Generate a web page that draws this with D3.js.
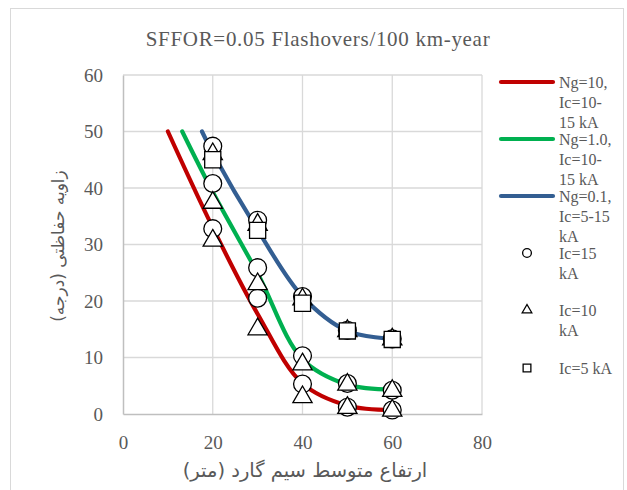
<!DOCTYPE html>
<html>
<head>
<meta charset="utf-8">
<script src="https://cdn.jsdelivr.net/npm/d3@7"></script>
<style>
  body { margin: 0; background: #fff; }
  text { font-family: "Liberation Serif", serif; fill: #595959; }
  .fa { font-family: "DejaVu Sans", sans-serif; }
</style>
</head>
<body>
<div id="chart"></div>
<script>
// tick values
let xTicks = [0, 20, 40, 60, 80];
let yTicks = [0, 10, 20, 30, 40, 50, 60];

// smoothed curves, one per Ng
let ng10Curve = [[10, 50], [20, 33], [30, 17.7], [40, 5.4], [50, 1.5], [60, 0.7]];
let ng1Curve = [[13.2, 50], [20, 39.3], [30, 24.9], [40, 9.7], [50, 5.2], [60, 4.3]];
let ng01Curve = [[17.6, 50], [20, 46.2], [30, 32.6], [40, 20.8], [50, 14.7], [60, 13.3]];

// marker series
let ic15Pts = [[20, 47.4], [20, 40.8], [20, 32.8], [30, 34.3], [30, 25.9], [30, 20.5],
    [40, 20.8], [40, 10.3], [40, 5.3], [50, 14.8], [50, 5.4], [50, 1.2],
    [60, 13.3], [60, 4.2], [60, 0.7]];
let ic10Pts = [[20, 46], [20, 37.4], [20, 30.7], [30, 33.5], [30, 23], [30, 15],
    [40, 20.3], [40, 8.8], [40, 3], [50, 14.7], [50, 5.2], [50, 1.1],
    [60, 13.2], [60, 4.1], [60, 0.6]];
let ic5Pts = [[20, 45], [30, 32.5], [40, 19.6], [50, 14.7], [60, 13.2]];

let curveNames = ["Ng=10,|Ic=10-|15 kA", "Ng=1.0,|Ic=10-|15 kA", "Ng=0.1,|Ic=5-15|kA"];
let curveColors = ["#c00000", "#00b050", "#335e92"];
let markerNames = ["Ic=15|kA", "Ic=10|kA", "Ic=5 kA"];

let svgWidth = 627;
let svgHeight = 490;
let margin = { top: 75, left: 123 };
let width = 359;
let height = 339;

let svg = d3.select("#chart")
    .append("svg")
    .attr("width", svgWidth)
    .attr("height", svgHeight);

// outer chart frame
svg.append("rect")
    .attr("x", 10.5).attr("y", 8.5)
    .attr("width", 613).attr("height", 500)
    .attr("fill", "none").attr("stroke", "#d9d9d9");

svg.append("text")
    .attr("x", 318).attr("y", 46)
    .attr("text-anchor", "middle")
    .attr("font-size", "21px")
    .attr("letter-spacing", "0.7px")
    .text("SFFOR=0.05 Flashovers/100 km-year");

let chartGroup = svg.append("g")
    .attr("transform", `translate(${margin.left}, ${margin.top})`);

let x = d3.scaleLinear().domain([0, 80]).range([0, width]);
let y = d3.scaleLinear().domain([0, 60]).range([height, 0]);

// gridlines
chartGroup.append("g")
    .selectAll("line")
    .data(yTicks.slice(1))
    .enter()
    .append("line")
    .attr("x1", 0).attr("x2", width)
    .attr("y1", d => y(d)).attr("y2", d => y(d))
    .attr("stroke", "#d9d9d9").attr("stroke-width", 1.3);

chartGroup.append("g")
    .selectAll("line")
    .data(xTicks.slice(1))
    .enter()
    .append("line")
    .attr("x1", d => x(d)).attr("x2", d => x(d))
    .attr("y1", 0).attr("y2", height)
    .attr("stroke", "#d9d9d9").attr("stroke-width", 1.3);

// axes
let bottomAxis = d3.axisBottom(x).tickValues(xTicks).tickSize(0).tickPadding(22);
let leftAxis = d3.axisLeft(y).tickValues(yTicks).tickSize(0).tickPadding(20);

let xAxis = chartGroup.append("g")
    .attr("transform", `translate(0, ${height})`)
    .call(bottomAxis);
let yAxis = chartGroup.append("g").call(leftAxis);

[xAxis, yAxis].forEach(a => {
    a.select(".domain").attr("stroke", "#bfbfbf").attr("stroke-width", 1.5);
    a.selectAll("text")
        .attr("font-family", "Liberation Serif, serif")
        .attr("font-size", "19px")
        .attr("fill", "#595959");
});

// curves
let line = d3.line()
    .x(d => x(d[0]))
    .y(d => y(d[1]))
    .curve(d3.curveCatmullRom.alpha(0.5));

[ng10Curve, ng1Curve, ng01Curve].forEach((c, i) => {
    chartGroup.append("path")
        .datum(c)
        .attr("d", line)
        .attr("fill", "none")
        .attr("stroke", curveColors[i])
        .attr("stroke-width", 4.2)
        .attr("stroke-linecap", "round");
});

// marker shapes
let circleSym = d3.symbol().type(d3.symbolCircle);
let triSym = d3.symbol().type(d3.symbolTriangle);
let sqSym = d3.symbol().type(d3.symbolSquare);

function drawMarkers(pts, sym, size) {
    chartGroup.append("g")
        .selectAll("path")
        .data(pts)
        .enter()
        .append("path")
        .attr("transform", d => `translate(${x(d[0])}, ${y(d[1])})`)
        .attr("d", sym.size(size)())
        .attr("fill", "#fff")
        .attr("stroke", "#000")
        .attr("stroke-width", 1.3);
}

drawMarkers(ic15Pts, circleSym, 250);
drawMarkers(ic10Pts, triSym, 160);
drawMarkers(ic5Pts, sqSym, 260);

// axis titles
svg.append("text")
    .attr("class", "fa")
    .attr("x", 305).attr("y", 477)
    .attr("text-anchor", "middle")
    .attr("direction", "rtl")
    .attr("font-size", "19.5px")
    .text("ارتفاع متوسط سیم گارد (متر)");

svg.append("text")
    .attr("class", "fa")
    .attr("transform", "translate(64, 246) rotate(-90)")
    .attr("text-anchor", "middle")
    .attr("direction", "rtl")
    .attr("font-size", "17px")
    .text("زاویه حفاظتی (درجه)");

// legend
let legend = svg.append("g");
let lineY = [82, 139, 196];

curveNames.forEach((n, i) => {
    legend.append("line")
        .attr("x1", 501).attr("x2", 553)
        .attr("y1", lineY[i]).attr("y2", lineY[i])
        .attr("stroke", curveColors[i])
        .attr("stroke-width", 4.2)
        .attr("stroke-linecap", "round");
    n.split("|").forEach((t, j) => {
        legend.append("text")
            .attr("x", 559)
            .attr("y", lineY[i] + 6 + j * 20)
            .attr("font-size", "16px")
            .text(t);
    });
});

let markerY = [253, 310, 368];
let legendSyms = [circleSym.size(60)(), triSym.size(40)(), sqSym.size(60)()];

markerNames.forEach((n, i) => {
    legend.append("path")
        .attr("transform", `translate(527, ${markerY[i]})`)
        .attr("d", legendSyms[i])
        .attr("fill", "#fff")
        .attr("stroke", "#000")
        .attr("stroke-width", 1.3);
    n.split("|").forEach((t, j) => {
        legend.append("text")
            .attr("x", 559)
            .attr("y", markerY[i] + 6 + j * 20)
            .attr("font-size", "16px")
            .text(t);
    });
});
</script>
</body>
</html>
